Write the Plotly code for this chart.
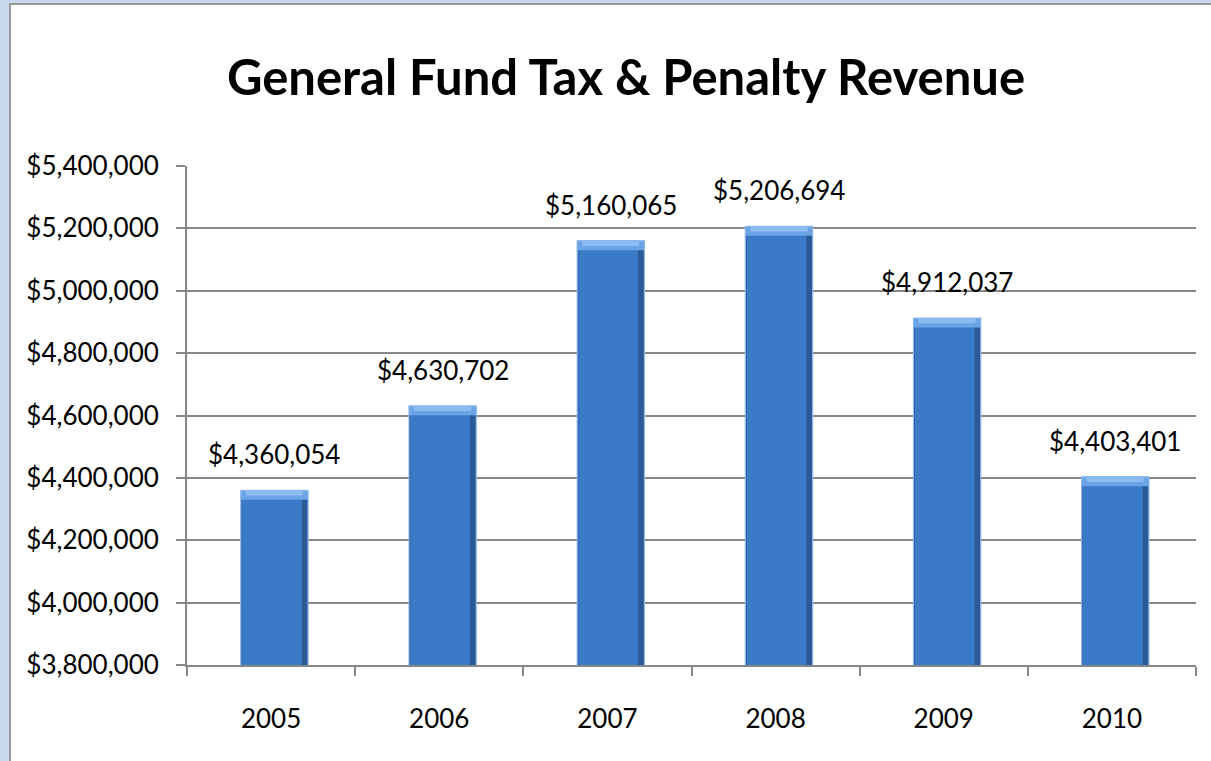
import plotly.graph_objects as go

years = ["2005", "2006", "2007", "2008", "2009", "2010"]
revenue = [4360054, 4630702, 5160065, 5206694, 4912037, 4403401]
y_ticks = [3800000, 4000000, 4200000, 4400000, 4600000, 4800000, 5000000, 5200000, 5400000]
y_tick_text = ["${:,}".format(v) for v in y_ticks]
value_labels = ["${:,}".format(v) for v in revenue]

FONT = "Lato, Open Sans, sans-serif"
W, H = 1211, 761
L, R, T, B = 187, 15, 166, 96
pw, ph = W - L - R, H - T - B

def px_x(px):
    return (px - L) / pw

def px_y(py):
    return (H - B - py) / ph

BAR_W = 0.4
BAR_OFF = -0.18

fig = go.Figure()

# layered bars give a simple bevelled look: dark shell, main body, light rim
fig.add_trace(go.Bar(x=years, y=revenue, width=BAR_W, offset=BAR_OFF,
                     marker=dict(color="#2b5a96", line=dict(width=0)),
                     hoverinfo="skip", showlegend=False))
fig.add_trace(go.Bar(x=years, y=revenue, width=BAR_W - 0.045, offset=BAR_OFF + 0.008,
                     marker=dict(color="#3b7ac7", line=dict(width=0)),
                     hoverinfo="skip", showlegend=False))
# light bevel along the top edge of each bar
cap = 30000
fig.add_trace(go.Bar(x=years, y=[cap] * len(revenue), base=[v - cap for v in revenue],
                     width=BAR_W, offset=BAR_OFF,
                     marker=dict(color="#6aa3e6", line=dict(width=0)),
                     hoverinfo="skip", showlegend=False))
fig.add_trace(go.Bar(x=years, y=[cap * 0.55] * len(revenue),
                     base=[v - cap * 0.55 for v in revenue],
                     width=BAR_W - 0.06, offset=BAR_OFF + 0.03,
                     marker=dict(color="#8cbdf2", line=dict(width=0)),
                     hoverinfo="skip", showlegend=False))
fig.add_trace(go.Bar(x=years, y=revenue, width=BAR_W, offset=BAR_OFF,
                     marker=dict(color="rgba(0,0,0,0)", line=dict(color="#8db8ea", width=1.2)),
                     hoverinfo="skip", showlegend=False))

# value labels above each bar (category axes place annotations by index)
for i, (v, lab) in enumerate(zip(revenue, value_labels)):
    fig.add_annotation(x=i + BAR_OFF + BAR_W / 2, y=v, xref="x", yref="y", text=lab,
                       showarrow=False, yanchor="bottom", yshift=18,
                       font=dict(family=FONT, size=26, color="#000000"))

fig.update_layout(
    width=W, height=H,
    barmode="overlay",
    paper_bgcolor="white",
    plot_bgcolor="white",
    margin=dict(l=L, r=R, t=T, b=B),
    title=dict(text="<b>General Fund Tax & Penalty Revenue</b>",
               font=dict(family=FONT, size=49, color="#000000"),
               x=626 / W, xanchor="center", xref="container",
               y=1 - 78 / H, yanchor="middle", yref="container"),
    xaxis=dict(type="category", range=[-0.5, 5.5], tickson="boundaries",
               ticks="outside", ticklen=9,
               tickwidth=2, tickcolor="#878787", showline=True, linecolor="#878787",
               linewidth=2, showgrid=False, tickangle=0,
               tickfont=dict(family=FONT, size=26, color="#000000"),
               ticklabelstandoff=30),
    yaxis=dict(range=[3800000, 5400000], tickvals=y_ticks, ticktext=y_tick_text,
               ticks="outside", ticklen=9, tickwidth=2, tickcolor="#878787",
               showline=True, linecolor="#878787", linewidth=2,
               showgrid=True, gridcolor="#878787", gridwidth=2,
               tickfont=dict(family=FONT, size=26, color="#000000"),
               ticklabelstandoff=12, zeroline=False),
    shapes=[
        # light blue frame around the chart sheet
        dict(type="rect", xref="paper", yref="paper",
             x0=px_x(-5), x1=px_x(11), y0=px_y(H + 5), y1=px_y(-5),
             fillcolor="#c9d8ec", line=dict(width=0), layer="below"),
        dict(type="rect", xref="paper", yref="paper",
             x0=px_x(-5), x1=px_x(W + 5), y0=px_y(3), y1=px_y(-5),
             fillcolor="#c9d8ec", line=dict(width=0), layer="below"),
        dict(type="rect", xref="paper", yref="paper",
             x0=px_x(10), x1=px_x(W + 10), y0=px_y(H + 10), y1=px_y(4),
             fillcolor="rgba(0,0,0,0)", line=dict(color="#9a9a9a", width=2)),
    ],
)

fig.write_html("out.html")
